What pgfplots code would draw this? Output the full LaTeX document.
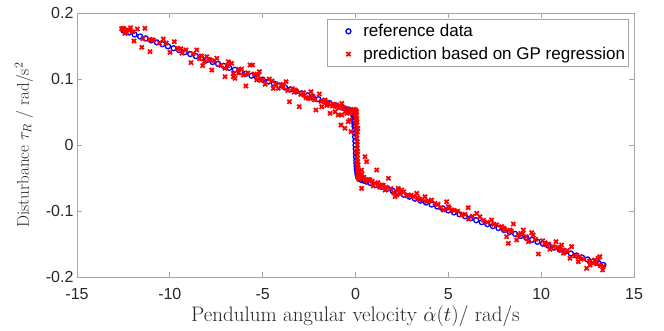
\RequirePackage{fix-cm}
\documentclass[border=0pt]{standalone}
\usepackage{fontspec}
\usepackage{pgfplots}
\pgfplotsset{compat=1.18}
\newfontfamily\arial{Liberation Sans}
\definecolor{framegray}{RGB}{166,166,166}
\definecolor{mblue}{RGB}{0,0,255}
\definecolor{mred}{RGB}{255,0,0}
\begin{document}
\begin{tikzpicture}
\begin{axis}[
  scale only axis, width=557pt, height=264pt,
  xmin=-15, xmax=15, ymin=-0.2, ymax=0.2,
  xtick={-15,-10,-5,0,5,10,15},
  ytick={-0.2,-0.1,0,0.1,0.2},
  scaled y ticks=false,
  tick align=inside, major tick length=5pt,
  axis line style={draw=framegray, line width=0.8pt},
  tick style={draw=framegray, line width=0.8pt},
  /pgf/number format/assume math mode=true,
  tick label style={font=\arial\fontsize{16}{18}\selectfont, text=black!85},
  xticklabel style={yshift=-8pt},
  xlabel={Pendulum angular velocity $\dot{\alpha}(t)$/ rad/s},
  ylabel={Disturbance $\tau_R$ / rad/s$^2$},
  ylabel style={font=\fontsize{17}{19}\selectfont, text=black!85, at={(axis description cs:-0.095,0.5)}, anchor=center},
  xlabel style={font=\fontsize{21}{23}\selectfont, text=black!85, at={(axis description cs:0.5,-0.148)}, anchor=center},
  legend style={font=\arial\fontsize{17}{19}\selectfont, draw=framegray, line width=0.8pt,
    at={(1,1)}, anchor=north east, xshift=-5pt, yshift=-6pt, inner xsep=1.5pt, inner ysep=3pt, row sep=5pt},
  legend cell align=left,
  legend image code/.code={\path (-9pt,0pt) (22pt,0pt); \draw[#1] plot coordinates {(10pt,0pt)};},
]
\addplot[only marks, mark=o, mark size=2.5pt, color=mblue, line width=1.3pt] coordinates {
(-12.5,0.1734) (-12.2,0.1704) (-11.9,0.1674) (-11.6,0.1644) (-11.3,0.1615) (-11.0,0.1585)
(-10.7,0.1555) (-10.4,0.1526) (-10.1,0.1496) (-9.8,0.1466) (-9.5,0.1437) (-9.2,0.1407)
(-8.9,0.1377) (-8.6,0.1347) (-8.3,0.1318) (-8.0,0.1288) (-7.7,0.1258) (-7.4,0.1229)
(-7.1,0.1199) (-6.8,0.1169) (-6.5,0.1140) (-6.2,0.1110) (-5.9,0.1080) (-5.6,0.1050)
(-5.3,0.1021) (-5.0,0.0991) (-4.7,0.0961) (-4.4,0.0932) (-4.1,0.0902) (-3.8,0.0872)
(-3.5,0.0843) (-3.2,0.0813) (-2.9,0.0783) (-2.6,0.0753) (-2.3,0.0724) (-2.0,0.0694)
(-1.7,0.0664) (-1.4,0.0635) (-1.1,0.0605) (-0.8,0.0575) (-0.6,0.0555) (-0.45,0.0540)
(-0.35,0.0531) (-0.28,0.0523) (-0.22,0.0514) (-0.18,0.0503) (-0.15,0.0488) (-0.12,0.0461)
(-0.10,0.0431) (-0.08,0.0386) (-0.07,0.0360) (-0.06,0.0321) (-0.05,0.0280) (-0.04,0.0233)
(-0.03,0.0180) (-0.02,0.0124) (-0.01,0.0060) (0,0) (0.01,-0.0060) (0.02,-0.0124)
(0.03,-0.0180) (0.04,-0.0233) (0.05,-0.0280) (0.06,-0.0321) (0.07,-0.0360) (0.08,-0.0386)
(0.10,-0.0431) (0.12,-0.0461) (0.15,-0.0488) (0.18,-0.0503) (0.22,-0.0514) (0.28,-0.0523)
(0.35,-0.0531) (0.45,-0.0540) (0.6,-0.0555) (0.8,-0.0575) (1.1,-0.0605) (1.4,-0.0635)
(1.7,-0.0664) (2.0,-0.0694) (2.3,-0.0724) (2.6,-0.0753) (2.9,-0.0783) (3.2,-0.0813)
(3.5,-0.0843) (3.8,-0.0872) (4.1,-0.0902) (4.4,-0.0932) (4.7,-0.0961) (5.0,-0.0991)
(5.3,-0.1021) (5.6,-0.1050) (5.9,-0.1080) (6.2,-0.1110) (6.5,-0.1140) (6.8,-0.1169)
(7.1,-0.1199) (7.4,-0.1229) (7.7,-0.1258) (8.0,-0.1288) (8.3,-0.1318) (8.6,-0.1347)
(8.9,-0.1377) (9.2,-0.1407) (9.5,-0.1437) (9.8,-0.1466) (10.1,-0.1496) (10.4,-0.1526)
(10.7,-0.1555) (11.0,-0.1585) (11.3,-0.1615) (11.6,-0.1644) (11.9,-0.1674) (12.2,-0.1704)
(12.5,-0.1734) (12.8,-0.1763) (13.1,-0.1793) (13.35,-0.1818)
};
\addlegendentry{reference data}
\addplot[only marks, mark=x, mark size=2.9pt, color=mred, line width=1.8pt] coordinates {
(-12.50,0.1768) (-12.41,0.1692) (-12.32,0.1742) (-12.11,0.1777) (-11.75,0.1758) (-11.34,0.1768)
(-11.93,0.1576) (-11.51,0.1480) (-11.07,0.1414) (-10.89,0.1590) (-10.35,0.1606) (-10.56,0.1545)
(-9.76,0.1565) (-9.99,0.1405) (-9.13,0.1440) (-8.55,0.1440) (-8.86,0.1247) (-8.01,0.1338)
(-8.14,0.1262) (-8.23,0.1202) (-7.83,0.1288) (-7.47,0.1314) (-7.74,0.1136) (-7.03,0.1162)
(-6.85,0.1262) (-6.58,0.1086) (-7.03,0.1035)
(-6.67,0.1238) (-6.58,0.1035) (-6.49,0.1010) (-6.13,0.1152) (-6.04,0.1060) (-5.68,0.1212)
(-5.54,0.1212) (-5.18,0.1111) (-5.90,0.0894) (-5.32,0.0985) (-5.00,0.0985) (-4.87,0.0920)
(-4.64,0.1000) (-4.43,0.0859) (-4.16,0.0859) (-3.74,0.0959) (-3.89,0.0883) (-3.26,0.0833)
(-3.17,0.0808) (-3.56,0.0656) (-3.03,0.0580) (-2.81,0.0793) (-2.67,0.0717) (-2.40,0.0808)
(-1.95,0.0773) (-2.45,0.0707) (-2.13,0.0530) (-1.82,0.0580) (-1.64,0.0682) (-1.46,0.0631)
(-1.37,0.0480) (-1.10,0.0505) (-1.01,0.0580) (-0.74,0.0455) (-0.66,0.0556) (-0.47,0.0480)
(-1.01,0.0606) (-0.93,0.0455) (-0.74,0.0631) (-0.78,0.0303) (-0.57,0.0253) (-0.39,0.0353)
(-0.30,0.0379) (-0.24,0.0202) (-0.20,0.0480) (-0.12,0.0530)
(0.51,-0.0177) (0.60,-0.0253) (0.33,-0.0379) (0.15,-0.0429) (0.42,-0.0505) (0.33,-0.0657)
(0.78,-0.0530) (1.14,-0.0379) (1.05,-0.0580) (1.41,-0.0606) (1.77,-0.0505) (1.59,-0.0682)
(2.13,-0.0783) (2.30,-0.0682)
(2.30,-0.0657) (2.49,-0.0682) (2.22,-0.0758) (2.84,-0.0758) (3.11,-0.0783) (3.30,-0.0732)
(3.47,-0.0833) (3.74,-0.0783) (3.83,-0.0859) (4.10,-0.0833) (4.28,-0.0884) (4.91,-0.0859)
(4.73,-0.0985) (5.00,-0.0934) (5.18,-0.0985) (6.07,-0.0950) (5.72,-0.1060) (6.53,-0.1035)
(6.70,-0.1086) (7.33,-0.1136)
(7.87,-0.1237) (8.05,-0.1288) (8.50,-0.1197) (8.32,-0.1288) (8.14,-0.1389) (8.23,-0.1490)
(8.77,-0.1364) (9.04,-0.1288) (8.68,-0.1439) (9.49,-0.1328) (9.31,-0.1465) (9.57,-0.1364)
(10.08,-0.1450) (9.85,-0.1652) (10.30,-0.1515) (10.47,-0.1580) (10.65,-0.1540) (10.80,-0.1465)
(11.10,-0.1515) (11.01,-0.1590) (11.19,-0.1590) (11.64,-0.1540) (11.55,-0.1717) (12.09,-0.1692)
(12.00,-0.1768) (12.45,-0.1869) (12.63,-0.1818) (12.90,-0.1742) (13.07,-0.1717) (13.16,-0.1692)
(13.34,-0.1843) (13.31,-0.1894)
(-12.6,0.1763) (-12.35,0.1709) (-12.0,0.1714) (-11.45,0.1610) (-10.95,0.1590) (-10.2,0.1546)
(-9.6,0.1466) (-9.35,0.1392) (-8.75,0.1382) (-8.4,0.1308) (-7.6,0.1278) (-7.25,0.1204)
(-6.9,0.1199) (-6.3,0.1090) (-5.8,0.1090) (-5.45,0.1076) (-5.1,0.0981) (-4.5,0.0972)
(-4.0,0.0902) (-3.65,0.0827) (-3.4,0.0853) (-2.95,0.0768) (-2.55,0.0708) (-2.2,0.0684)
(-1.85,0.0659) (-1.55,0.0599) (-1.25,0.0590) (-0.9,0.0565) (-0.55,0.0510) (-0.3,0.0510)
(-0.2,0.0520)
(-12.45,0.1750) (-12.2,0.1735) (-11.1,0.1600) (-9.4,0.1460) (-8.3,0.1350) (-7.9,0.1300)
(-6.3,0.1150) (-5.25,0.1050) (-4.3,0.0930) (-3.9,0.0920) (-3.3,0.0800) (-2.75,0.0750)
(-2.3,0.0740) (-1.6,0.0650) (-1.2,0.0620) (-0.7,0.0570) (-0.4,0.0545)
(0.25,-0.0470) (0.35,-0.0440) (0.45,-0.0490) (0.7,-0.0520) (0.9,-0.0550) (1.2,-0.0570)
(1.3,-0.0640) (1.5,-0.0610) (1.9,-0.0660) (2.05,-0.0720) (2.6,-0.0710) (3.0,-0.0760)
(3.6,-0.0820) (3.95,-0.0850) (4.45,-0.0900) (5.3,-0.0990) (5.5,-0.1000) (5.9,-0.1050)
(6.3,-0.1080) (6.9,-0.1140) (7.1,-0.1170) (7.6,-0.1210) (8.0,-0.1260) (8.9,-0.1340)
(9.2,-0.1390) (9.7,-0.1430) (10.4,-0.1500) (11.4,-0.1600) (11.8,-0.1680) (12.3,-0.1730)
(12.8,-0.1790) (13.2,-0.1830)
(0.55,-0.0540) (0.95,-0.0620) (1.25,-0.0600) (1.65,-0.0640) (2.4,-0.0740) (2.75,-0.0770)
(3.35,-0.0800) (4.6,-0.0950) (5.05,-0.0960) (6.1,-0.1120) (7.45,-0.1200) (8.4,-0.1310)
(9.0,-0.1350) (10.2,-0.1480) (10.9,-0.1550) (11.2,-0.1640) (12.0,-0.1700) (12.6,-0.1760)
(13.0,-0.1800)
(0.00,0.0530) (0.03,0.0520) (0.06,0.0500) (0.05,0.0450) (0.07,0.0400) (0.08,0.0350)
(0.05,0.0300) (0.13,0.0250) (0.10,0.0200) (0.08,0.0100) (0.10,0.0000) (0.09,-0.0050)
(0.12,-0.0100) (0.10,-0.0200) (0.14,-0.0300) (0.11,-0.0350) (0.15,-0.0400) (0.12,-0.0450)
(0.16,-0.0500) (0.20,-0.0520)
(0.02,0.0480) (0.04,0.0380) (0.06,0.0220) (0.07,0.0150) (0.09,0.0050) (0.11,-0.0150)
(0.12,-0.0250) (0.13,-0.0380) (0.14,-0.0460) (0.18,-0.0480) (0.08,-0.0280) (0.06,-0.0100)
(0.03,0.0350) (-0.05,0.0520) (-0.08,0.0540)
};
\addlegendentry{prediction based on GP regression}
\end{axis}
\path ([shift={(-77pt,-54pt)}]current axis.south west) rectangle ([shift={(30pt,13pt)}]current axis.north east);
\end{tikzpicture}
\end{document}
